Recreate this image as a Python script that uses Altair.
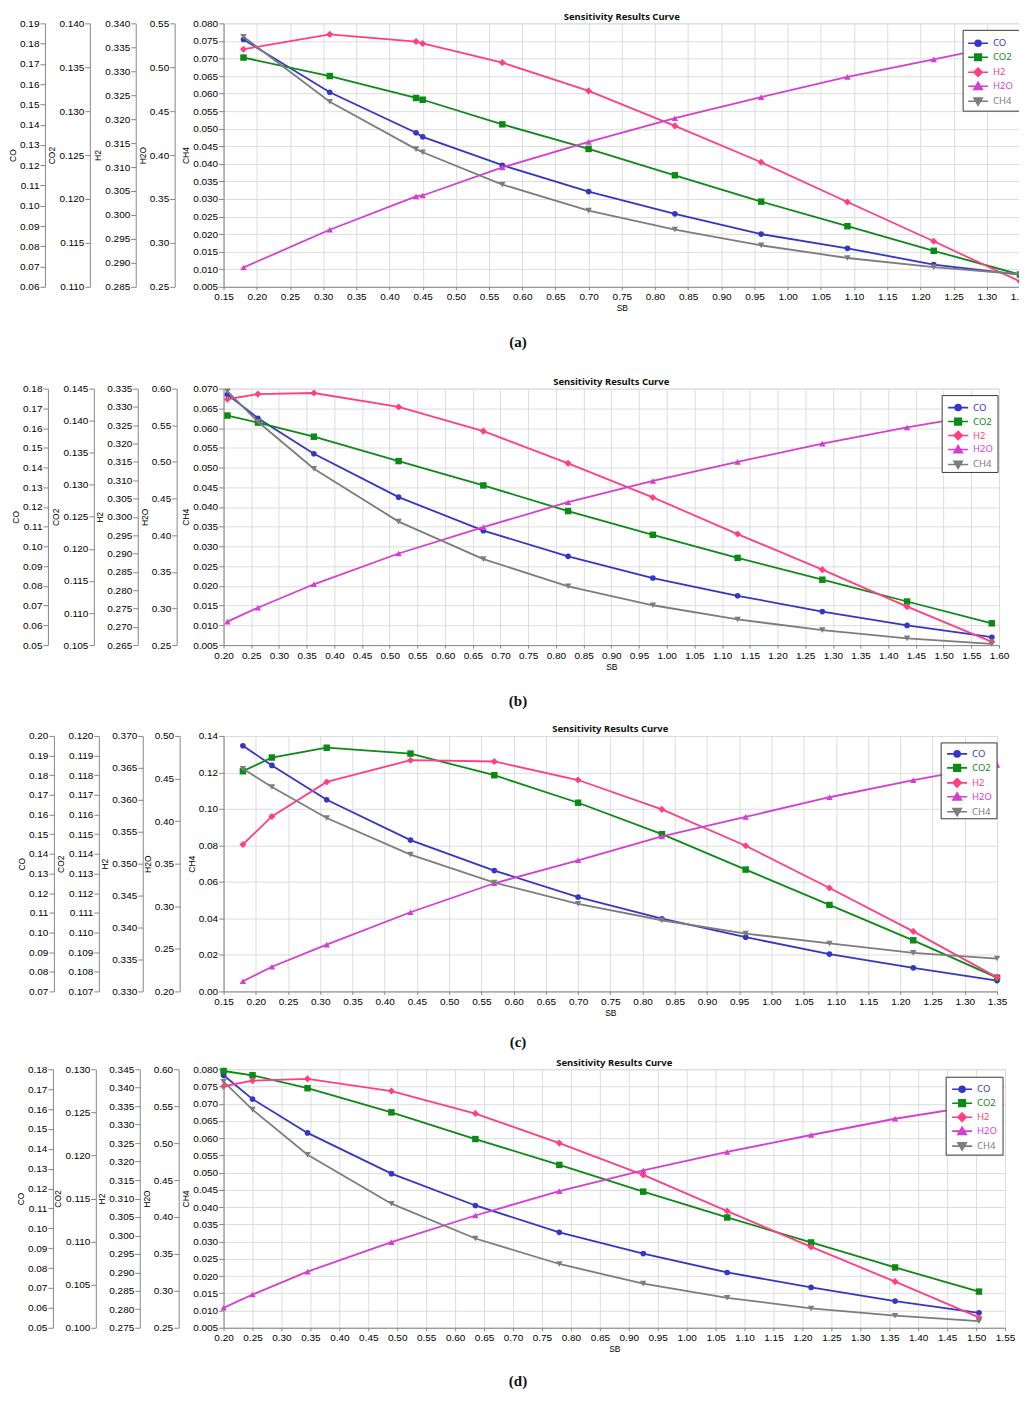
import altair as alt
import pandas as pd

SERIES = ["CO", "CO2", "H2", "H2O", "CH4"]
COLORS = ["#3535c8", "#0b8a16", "#ff3f80", "#d43fd0", "#7d7d7d"]
SHAPES = ["circle", "square", "diamond", "triangle-up", "triangle-down"]
SIZES = [32, 42, 50, 42, 42]
LEGEND_PATHS = [
    "M-1,0H1M-0.3,0A0.3,0.3,0,1,1,0.3,0A0.3,0.3,0,1,1,-0.3,0Z",
    "M-1,0H1M-0.33,-0.33H0.33V0.33H-0.33Z",
    "M-1,0H1M0,-0.42L0.42,0L0,0.42L-0.42,0Z",
    "M-1,0H1M0,-0.4L0.42,0.32L-0.42,0.32Z",
    "M-1,0H1M0,0.4L0.42,-0.32L-0.42,-0.32Z",
]
FONT = "Noto Sans"

# ---------------- panel (a) ----------------
A_SB = [0.18, 0.31, 0.44, 0.45, 0.57, 0.70, 0.83, 0.96, 1.09, 1.22, 1.35]
A_CO = [0.182, 0.156, 0.136, 0.134, 0.120, 0.107, 0.096, 0.086, 0.079, 0.071, 0.066]
A_CO2 = [0.1361, 0.1340, 0.1315, 0.1313, 0.1285, 0.1257, 0.1227, 0.1197, 0.1169, 0.1141, 0.1114]
A_H2 = [0.3346, 0.3377, 0.3362, 0.3358, 0.3318, 0.3259, 0.3186, 0.3110, 0.3027, 0.2945, 0.2861]
A_H2O = [0.272, 0.315, 0.353, 0.354, 0.386, 0.415, 0.442, 0.466, 0.489, 0.509, 0.529]
A_CH4 = [0.0762, 0.0577, 0.0442, 0.0433, 0.0341, 0.0267, 0.0213, 0.0168, 0.0132, 0.0106, 0.0086]
A_AXES = [(0.06, 0.19, 0.01, ".2f"), (0.110, 0.140, 0.005, ".3f"), (0.285, 0.340, 0.005, ".3f"),
          (0.25, 0.55, 0.05, ".2f"), (0.005, 0.080, 0.005, ".3f")]
A_XDOM = (0.15, 1.35)

# ---------------- panel (b) ----------------
B_SB = [0.207, 0.262, 0.363, 0.516, 0.669, 0.822, 0.975, 1.128, 1.281, 1.434, 1.587]
B_CO = [0.177, 0.165, 0.147, 0.125, 0.108, 0.095, 0.084, 0.075, 0.067, 0.060, 0.054]
B_CO2 = [0.1408, 0.1397, 0.1375, 0.1337, 0.1299, 0.1259, 0.1222, 0.1186, 0.1152, 0.1118, 0.1084]
B_H2 = [0.3321, 0.3335, 0.3338, 0.3300, 0.3234, 0.3146, 0.3053, 0.2953, 0.2856, 0.2755, 0.2659]
B_H2O = [0.282, 0.301, 0.333, 0.375, 0.411, 0.445, 0.474, 0.500, 0.525, 0.547, 0.567]
B_CH4 = [0.0693, 0.0616, 0.0497, 0.0363, 0.0268, 0.0199, 0.0151, 0.0115, 0.0088, 0.0067, 0.0053]
B_AXES = [(0.05, 0.18, 0.01, ".2f"), (0.105, 0.145, 0.005, ".3f"), (0.265, 0.335, 0.005, ".3f"),
          (0.25, 0.60, 0.05, ".2f"), (0.005, 0.070, 0.005, ".3f")]
B_XDOM = (0.20, 1.60)

# ---------------- panel (c) ----------------
C_SB = [0.18, 0.225, 0.31, 0.44, 0.57, 0.70, 0.83, 0.96, 1.09, 1.22, 1.35]
C_CO = [0.195, 0.185, 0.1675, 0.147, 0.1315, 0.118, 0.107, 0.0976, 0.089, 0.082, 0.0755]
C_CO2 = [0.1182, 0.1189, 0.1194, 0.1191, 0.1180, 0.1166, 0.1150, 0.1132, 0.1114, 0.1096, 0.1077]
C_H2 = [0.3530, 0.3574, 0.3628, 0.3662, 0.3660, 0.3631, 0.3585, 0.3528, 0.3462, 0.3394, 0.3322]
C_H2O = [0.212, 0.229, 0.255, 0.293, 0.327, 0.354, 0.382, 0.405, 0.428, 0.448, 0.466]
C_CH4 = [0.122, 0.112, 0.095, 0.075, 0.0596, 0.048, 0.039, 0.0317, 0.0263, 0.0211, 0.018]
C_AXES = [(0.07, 0.20, 0.01, ".2f"), (0.107, 0.120, 0.001, ".3f"), (0.330, 0.370, 0.005, ".3f"),
          (0.20, 0.50, 0.05, ".2f"), (0.00, 0.14, 0.02, ".2f")]
C_XDOM = (0.15, 1.35)

# ---------------- panel (d) ----------------
D_SB = [0.20, 0.25, 0.345, 0.49, 0.635, 0.78, 0.925, 1.07, 1.215, 1.36, 1.505]
D_CO = [0.177, 0.165, 0.148, 0.1275, 0.1115, 0.098, 0.0873, 0.0778, 0.0703, 0.0634, 0.0575]
D_CO2 = [0.1298, 0.1293, 0.1278, 0.1250, 0.1219, 0.1189, 0.1158, 0.1128, 0.1099, 0.1070, 0.1042]
D_H2 = [0.3404, 0.3419, 0.3424, 0.3391, 0.3330, 0.3250, 0.3164, 0.3066, 0.2969, 0.2875, 0.2778]
D_H2O = [0.277, 0.295, 0.326, 0.366, 0.402, 0.435, 0.463, 0.488, 0.511, 0.533, 0.551]
D_CH4 = [0.0764, 0.0683, 0.0552, 0.0410, 0.0309, 0.0235, 0.0178, 0.0137, 0.0106, 0.0085, 0.0069]
D_AXES = [(0.05, 0.18, 0.01, ".2f"), (0.100, 0.130, 0.005, ".3f"), (0.275, 0.345, 0.005, ".3f"),
          (0.25, 0.60, 0.05, ".2f"), (0.005, 0.080, 0.005, ".3f")]
D_XDOM = (0.20, 1.55)

CAPTIONS = ["(a)", "(b)", "(c)", "(d)"]
TITLE = "Sensitivity Results Curve"


def ticks(lo, hi, step):
    n = int(round((hi - lo) / step))
    return [round(lo + i * step, 4) for i in range(n + 1)]


def panel(sb, vals, axes, xdom, layout):
    w, h = layout["w"], layout["h"]
    X = alt.X("SB:Q", title="SB",
              scale=alt.Scale(domain=list(xdom), nice=False, zero=False),
              axis=alt.Axis(values=ticks(xdom[0], xdom[1], 0.05), format=".2f", grid=True,
                            tickSize=3, labelPadding=2, titlePadding=2, labelOverlap=False,
                            labelFlush=False, titleFontWeight="normal", titleFontSize=8.5))
    layers = []
    for i, name in enumerate(SERIES):
        lo, hi, step, fmt = axes[i]
        df = pd.DataFrame({"SB": sb, "v": vals[i], "series": name})
        Y = alt.Y("v:Q", title=name,
                  scale=alt.Scale(domain=[lo, hi], nice=False, zero=False),
                  axis=alt.Axis(orient="left", offset=layout["offsets"][i],
                                values=ticks(lo, hi, step), format=fmt, labelOverlap=False,
                                labelFlush=False,
                                grid=(name == "CH4"), titlePadding=2, labelPadding=1,
                                titleFontWeight="normal", titleFontSize=8.5))
        C = alt.Color("series:N",
                      scale=alt.Scale(domain=[name], range=[COLORS[i]]),
                      legend=alt.Legend(orient="none", legendX=layout["cx"] - 10,
                                        legendY=layout["rows"][i] - 10, title=None,
                                        symbolType=LEGEND_PATHS[i], symbolSize=400,
                                        symbolFillColor=COLORS[i], symbolStrokeColor=COLORS[i],
                                        symbolStrokeWidth=1.6, labelColor=COLORS[i],
                                        labelFont=FONT, labelFontSize=9.5, labelOffset=4,
                                        padding=0, zindex=1))
        layers.append(
            alt.Chart(df).mark_line(strokeWidth=1.8,
                                    point=alt.OverlayMarkDef(filled=True, shape=SHAPES[i],
                                                             size=SIZES[i], opacity=1))
            .encode(x=X, y=Y, color=C)
        )
    one = pd.DataFrame({"label": [layout["cap"]]})
    x0, x1, y0, y1 = layout["box"]
    box = alt.Chart(one).mark_rect(fill="white", stroke="#3a3a3a", strokeWidth=1).encode(
        x=alt.value(x0), x2=alt.value(x1), y=alt.value(y0), y2=alt.value(y1))
    cap = alt.Chart(one).mark_text(font="Liberation Serif", fontSize=15, fontWeight="bold",
                                   color="#111", baseline="middle", align="center").encode(
        text="label:N", x=alt.value(295), y=alt.value(layout["capy"]))
    extra = [box, cap]
    if layout.get("spacer"):
        spacer = alt.Chart(one).mark_rect(fill="white").encode(
            x=alt.value(0), x2=alt.value(1), y=alt.value(layout["spacer"] - 1),
            y2=alt.value(layout["spacer"]))
        extra.append(spacer)
    return (
        alt.layer(*layers, *extra)
        .resolve_scale(y="independent", color="independent")
        .resolve_legend(color="independent")
        .properties(width=w, height=h,
                    title=alt.TitleParams(TITLE, fontSize=9.5, fontWeight="bold", font=FONT,
                                          color="#111", offset=-3, frame="group", anchor="middle"))
    )


LAYOUTS = [
    dict(w=798, h=264, offsets=[179, 134, 88, 49, 0], box=(741, 798, 7, 88), cx=755,
         rows=[19, 33, 48, 62, 77], cap=CAPTIONS[0], capy=319, spacer=353),
    dict(w=777, h=257, offsets=[176, 130, 86, 47, 0], box=(720, 776, 7, 84), cx=735,
         rows=[18, 32, 46, 60, 75], cap=CAPTIONS[1], capy=313, spacer=335),
    dict(w=775, h=256, offsets=[170, 125, 81, 44, 0], box=(719, 775, 7, 83), cx=734,
         rows=[17, 31, 46, 60, 75], cap=CAPTIONS[2], capy=307, spacer=321),
    dict(w=783, h=259, offsets=[171, 128, 84, 45, 0], box=(724, 781, 8, 86), cx=739,
         rows=[19, 33, 47, 61, 76], cap=CAPTIONS[3], capy=312, spacer=None),
]

pa = panel(A_SB, [A_CO, A_CO2, A_H2, A_H2O, A_CH4], A_AXES, A_XDOM, LAYOUTS[0])
pb = panel(B_SB, [B_CO, B_CO2, B_H2, B_H2O, B_CH4], B_AXES, B_XDOM, LAYOUTS[1])
pc = panel(C_SB, [C_CO, C_CO2, C_H2, C_H2O, C_CH4], C_AXES, C_XDOM, LAYOUTS[2])
pd_ = panel(D_SB, [D_CO, D_CO2, D_H2, D_H2O, D_CH4], D_AXES, D_XDOM, LAYOUTS[3])

chart = (
    alt.vconcat(pa, pb, pc, pd_, spacing=0)
    .properties(padding={"left": 0, "top": 2, "right": -12, "bottom": 0})
    .configure_view(strokeWidth=0)
    .configure_axis(labelFont=FONT, labelFontSize=8, labelColor="#444",
                    titleFont=FONT, titleFontSize=8.5, titleFontWeight="normal", titleColor="#333",
                    domainColor="#4a4a4a", domainWidth=1.2, tickColor="#4a4a4a", tickSize=4,
                    gridColor="#e2e2e2", gridWidth=1)
    .configure(background="white")
)

chart.save("out.html", embed_options={"renderer": "svg", "actions": False})
